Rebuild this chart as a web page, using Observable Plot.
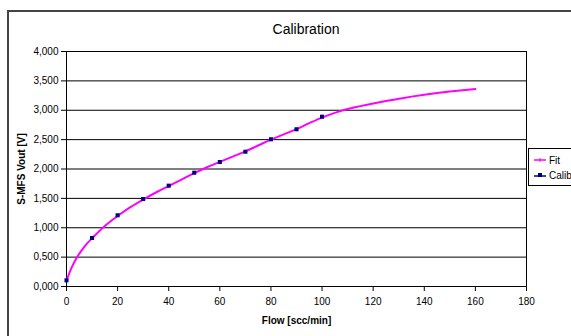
<!DOCTYPE html>
<html>
<head>
<meta charset="utf-8">
<script src="https://cdn.jsdelivr.net/npm/d3@7"></script>
<script src="https://cdn.jsdelivr.net/npm/@observablehq/plot@0.6"></script>
<style>
  html, body { margin: 0; padding: 0; background: #fff; overflow: hidden; }
  #wrap { position: relative; width: 571px; height: 336px; font-family: "Liberation Sans", Arial, sans-serif; }
  #border { position: absolute; left: 7px; top: 10px; width: 600px; height: 400px; border: 2px solid #444; box-sizing: border-box; }
  #title { position: absolute; left: 0; width: 612px; top: 21px; text-align: center; font-size: 14px; color: #000; }
  #legend { position: absolute; left: 528px; top: 148px; width: 60px; height: 36px; border: 1px solid #000; background: #fff; font-size: 10px; }
  .li { position: absolute; left: 5px; height: 12px; display: flex; align-items: center; }
  .li svg { margin-right: 3px; }
  #chart { position: absolute; left: 0; top: 0; }
</style>
</head>
<body>
<div id="wrap">
  <div id="border"></div>
  <div id="chart"></div>
  <div id="title">Calibration</div>
  <div id="legend">
    <div class="li" style="top:5px"><svg width="12" height="8"><line x1="0" y1="4" x2="12" y2="4" stroke="#ff00ff" stroke-width="1.5"/><line x1="6" y1="2" x2="6" y2="6" stroke="#ff00ff" stroke-width="1"/></svg>Fit</div>
    <div class="li" style="top:20px"><svg width="12" height="8"><line x1="0" y1="5" x2="12" y2="5" stroke="#000080" stroke-width="1.5"/><rect x="4" y="2" width="4" height="4" fill="#000080"/></svg>Calibration</div>
  </div>
</div>
<script>
// Calibration measurement points
const calibFlow = [0, 10, 20, 30, 40, 50, 60, 70, 80, 90, 100];
const calibVout = [0.105, 0.826, 1.212, 1.489, 1.716, 1.937, 2.119, 2.294, 2.506, 2.676, 2.890];

// Fit curve samples
const fitFlow = [0, 2, 4, 6, 8, 10, 15, 20, 25, 30, 35, 40, 45, 50, 55, 60, 65, 70, 75, 80, 85, 90, 95, 100, 105, 110, 115, 120, 125, 130, 135, 140, 145, 150, 155, 160];
const fitVout = [0.10, 0.32, 0.49, 0.62, 0.73, 0.82, 1.03, 1.20, 1.35, 1.48, 1.60, 1.71, 1.82, 1.93, 2.03, 2.12, 2.21, 2.30, 2.40, 2.50, 2.59, 2.68, 2.78, 2.875, 2.955, 3.02, 3.07, 3.115, 3.157, 3.195, 3.232, 3.265, 3.294, 3.32, 3.342, 3.36];

const xTicks = [0, 20, 40, 60, 80, 100, 120, 140, 160, 180];
const yTicks = [0, 0.5, 1, 1.5, 2, 2.5, 3, 3.5, 4];

const calib = calibFlow.map((f, i) => ({flow: f, vout: calibVout[i]}));
const fit = fitFlow.map((f, i) => ({flow: f, vout: fitVout[i]}));
const yFmt = d => d3.format(".3f")(d).replace(".", ",");

const chart = Plot.plot({
  width: 571,
  height: 336,
  marginLeft: 66,
  marginRight: 45,
  marginTop: 51,
  marginBottom: 50,
  style: { fontFamily: "'Liberation Sans', Arial, sans-serif", fontSize: "10px", color: "#000", background: "transparent" },
  x: { domain: [0, 180], label: null },
  y: { domain: [0, 4], label: null },
  marks: [
    Plot.ruleY(yTicks, { stroke: "#000", strokeWidth: 1 }),
    Plot.frame({ stroke: "#000", strokeWidth: 1 }),
    Plot.axisX({ ticks: xTicks, tickSize: 5, tickPadding: 6, stroke: "#000", label: null }),
    Plot.axisY({ ticks: yTicks, tickSize: 5, tickPadding: 3, tickFormat: yFmt, label: null }),
    Plot.line(fit, { x: "flow", y: "vout", stroke: "#ff00ff", strokeWidth: 2, curve: "catmull-rom" }),
    Plot.dot(calib, { x: "flow", y: "vout", symbol: "square", r: 2.3, fill: "#000080", stroke: null }),
    Plot.text(["Flow [scc/min]"], { frameAnchor: "bottom", dy: 37, fontWeight: "bold", fontSize: 10 }),
    Plot.text(["S-MFS Vout [V]"], { x: 0, y: 2, dx: -45, rotate: -90, fontWeight: "bold", fontSize: 10 })
  ]
});
document.getElementById("chart").appendChild(chart);
</script>
</body>
</html>
